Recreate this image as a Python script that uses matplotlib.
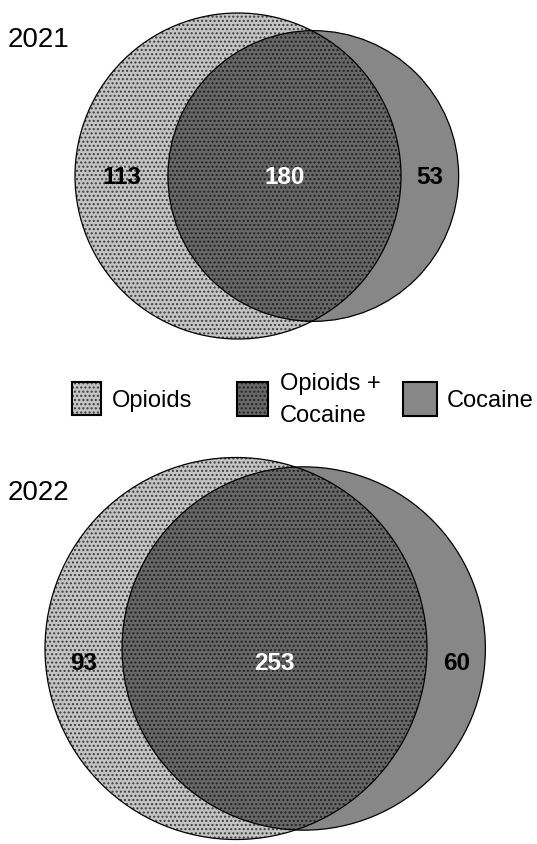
import numpy as np
import matplotlib
matplotlib.use('Agg')
import matplotlib.pyplot as plt
from matplotlib.patches import Circle, Rectangle

# ---------------- data ----------------
years = ['2021', '2022']
opioids_only = [113, 93]
both = [180, 253]
cocaine_only = [53, 60]
legend_labels = ['Opioids', 'Opioids +', 'Cocaine']
legend_labels2 = ['', 'Cocaine', '']

# ---------------- style ----------------
W, H, DPI = 537, 844, 100
plt.rcParams['font.family'] = ['Liberation Sans', 'DejaVu Sans']
plt.rcParams['hatch.linewidth'] = 1.0
OP_FACE = np.array([196, 196, 196]) / 255
DOT = '#3c3c3c'
COC_ALPHA = 0.47
HATCH = '....'

# panel layout in figure pixels (top, height, opioid centre x/y, opioid radius px, label dy)
panels = [dict(top=0, height=365, cx=238, cy=176, r_px=163, label_dy=1, title_base=47),
          dict(top=430, height=414, cx=236, cy=648.5, r_px=191, label_dy=15, title_base=500)]


def lens_area(r1, r2, d):
    if d >= r1 + r2:
        return 0.0
    if d <= abs(r1 - r2):
        return np.pi * min(r1, r2) ** 2
    a1 = r1 ** 2 * np.arccos((d * d + r1 * r1 - r2 * r2) / (2 * d * r1))
    a2 = r2 ** 2 * np.arccos((d * d + r2 * r2 - r1 * r1) / (2 * d * r2))
    a3 = 0.5 * np.sqrt((-d + r1 + r2) * (d + r1 - r2) * (d - r1 + r2) * (d + r1 + r2))
    return a1 + a2 - a3


def solve_distance(r1, r2, target):
    lo, hi = abs(r1 - r2) + 1e-9, r1 + r2
    for _ in range(200):
        mid = 0.5 * (lo + hi)
        if lens_area(r1, r2, mid) > target:
            lo = mid
        else:
            hi = mid
    return 0.5 * (lo + hi)


fig = plt.figure(figsize=(W / DPI, H / DPI), dpi=DPI)

for i, p in enumerate(panels):
    n_op = opioids_only[i] + both[i]
    n_co = cocaine_only[i] + both[i]
    r1 = np.sqrt(n_op / np.pi)
    r2 = np.sqrt(n_co / np.pi)
    d = solve_distance(r1, r2, both[i])
    s = p['r_px'] / r1  # pixels per data unit

    ax = fig.add_axes([0, 1 - (p['top'] + p['height']) / H, 1, p['height'] / H])
    ax.set_xlim(-p['cx'] / s, (W - p['cx']) / s)
    ax.set_ylim(-(p['top'] + p['height'] - p['cy']) / s, (p['cy'] - p['top']) / s)
    ax.axis('off')

    ax.add_patch(Circle((0, 0), r1, facecolor=OP_FACE, edgecolor='none', lw=0, clip_on=False))
    ax.add_patch(Circle((0, 0), r1, facecolor='none', edgecolor=DOT, hatch=HATCH, lw=0, clip_on=False))
    ax.add_patch(Circle((d, 0), r2, facecolor=(0, 0, 0, COC_ALPHA), edgecolor='none', lw=0, clip_on=False))
    ax.add_patch(Circle((0, 0), r1, fill=False, edgecolor='black', lw=0.9, clip_on=False))
    ax.add_patch(Circle((d, 0), r2, fill=False, edgecolor='black', lw=0.9, clip_on=False))

    ly = -p['label_dy'] / s
    x_left = 0.5 * (-r1 + (d - r2))
    x_mid = 0.5 * ((d - r2) + r1)
    x_right = 0.5 * (r1 + (d + r2))
    kw = dict(ha='center', va='center', fontsize=17.5, fontweight='bold')
    ax.text(x_left, ly, str(opioids_only[i]), color='black', **kw)
    ax.text(x_mid, ly, str(both[i]), color='white', **kw)
    ax.text(x_right, ly, str(cocaine_only[i]), color='black', **kw)

    fig.text(8 / W, 1 - p['title_base'] / H, years[i], fontsize=20, ha='left', va='baseline')

# ---------------- legend ----------------
lax = fig.add_axes([0, 0, 1, 1], zorder=5)
lax.set_xlim(0, W)
lax.set_ylim(H, 0)
lax.axis('off')
lax.patch.set_alpha(0)

over_face = OP_FACE * (1 - COC_ALPHA)
coc_face = np.ones(3) * (1 - COC_ALPHA)
faces = [OP_FACE, over_face, coc_face]
dotted = [True, True, False]
boxes = [(72, 382, 29, 33), (237, 382, 31, 34), (403, 382, 34, 34)]
text_x = [112, 280, 447]
for face, dot, (bx, by, bw, bh), tx, lab, lab2 in zip(faces, dotted, boxes, text_x,
                                                     legend_labels, legend_labels2):
    lax.add_patch(Rectangle((bx, by), bw, bh, facecolor=face, edgecolor='none', lw=0))
    if dot:
        dc = DOT if face is OP_FACE else '#202020'
        lax.add_patch(Rectangle((bx, by), bw, bh, facecolor='none', edgecolor=dc, hatch=HATCH, lw=0))
    lax.add_patch(Rectangle((bx, by), bw, bh, fill=False, edgecolor='black', lw=1.5))
    if lab2:
        lax.text(tx, 390, lab, fontsize=17, ha='left', va='baseline')
        lax.text(tx, 422, lab2, fontsize=17, ha='left', va='baseline')
    else:
        lax.text(tx, 407, lab, fontsize=17, ha='left', va='baseline')

fig.savefig('out.png', dpi=DPI)
